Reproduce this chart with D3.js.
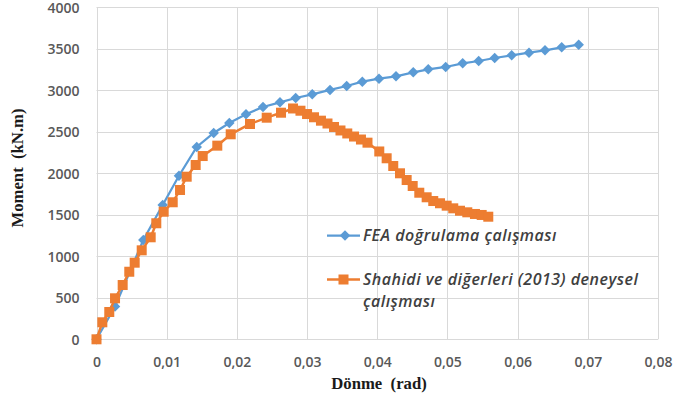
<!DOCTYPE html>
<html>
<head>
<meta charset="utf-8">
<script src="https://cdn.jsdelivr.net/npm/d3@7"></script>
<style>
  html, body { margin: 0; padding: 0; background: #fff; }
  svg { display: block; }
  .title { white-space: pre; }
</style>
</head>
<body>
<svg id="chart" width="673" height="405"></svg>
<script>
// Rotation (rad) and moment (kN.m) for the FEA verification model
const feaRotation = [0, 0.00264, 0.00667, 0.00943, 0.01175, 0.01428, 0.0167, 0.01892, 0.0213, 0.02372,
  0.02614, 0.02838, 0.03074, 0.03327, 0.03565, 0.03787, 0.04025, 0.04267, 0.04513, 0.04727,
  0.04975, 0.05217, 0.05445, 0.05673, 0.05915, 0.06162, 0.0639, 0.06628, 0.0687];
const feaMoment = [0, 395, 1196, 1618, 1971, 2317, 2486, 2606, 2711, 2799,
  2855, 2907, 2952, 3004, 3052, 3104, 3140, 3169, 3217, 3253,
  3281, 3325, 3353, 3389, 3422, 3453, 3482, 3518, 3549];

// Experimental results, Shahidi et al. (2013)
const expRotation = [0, 0.00083, 0.00182, 0.00264, 0.00373, 0.00467, 0.00544, 0.00644, 0.00772, 0.00852,
  0.00957, 0.01086, 0.0119, 0.01285, 0.01413, 0.01513, 0.01721, 0.01912, 0.02187, 0.02425,
  0.02629, 0.028, 0.02906, 0.03, 0.03099, 0.03198, 0.03291, 0.03384, 0.03476, 0.03573,
  0.03669, 0.03768, 0.03861, 0.04029, 0.04134, 0.04228, 0.04324, 0.04419, 0.04505, 0.04599,
  0.04704, 0.04798, 0.04894, 0.04989, 0.05083, 0.05179, 0.05283, 0.05392, 0.05488, 0.05582];
const expMoment = [0, 205, 329, 494, 654, 814, 923, 1072, 1229, 1398,
  1537, 1651, 1799, 1959, 2100, 2208, 2333, 2470, 2594, 2670,
  2730, 2781, 2754, 2714, 2675, 2634, 2600, 2558, 2516, 2480,
  2443, 2407, 2369, 2263, 2181, 2088, 2000, 1919, 1847, 1766,
  1711, 1666, 1639, 1610, 1578, 1549, 1530, 1510, 1498, 1477];

const xTicks = [0, 0.01, 0.02, 0.03, 0.04, 0.05, 0.06, 0.07, 0.08];
const xTickLabels = ["0", "0,01", "0,02", "0,03", "0,04", "0,05", "0,06", "0,07", "0,08"];
const yTicks = [0, 500, 1000, 1500, 2000, 2500, 3000, 3500, 4000];

const seriesNames = ["FEA doğrulama çalışması", "Shahidi ve diğerleri (2013) deneysel", "çalışması"];
const xTitle = "Dönme  (rad)";
const yTitle = "Moment  (kN.m)";

const blue = "#5b9bd5", orange = "#ed7d31";
const svg = d3.select("#chart");
const x = d3.scaleLinear().domain([0, 0.08]).range([96.5, 658]);
const y = d3.scaleLinear().domain([0, 4000]).range([339.3, 7.3]);

// gridlines
const grid = svg.append("g").attr("stroke", "#d9d9d9").attr("stroke-width", 1);
grid.selectAll("line.v").data(xTicks).join("line")
  .attr("x1", d => Math.round(x(d)) + 0.5).attr("x2", d => Math.round(x(d)) + 0.5)
  .attr("y1", y(4000)).attr("y2", y(0));
grid.selectAll("line.h").data(yTicks).join("line")
  .attr("x1", x(0)).attr("x2", x(0.08))
  .attr("y1", d => Math.round(y(d)) + 0.5).attr("y2", d => Math.round(y(d)) + 0.5);

// axes: labels only, no domain lines
const tickFont = "'Open Sans', sans-serif";
const xAxis = svg.append("g").attr("transform", `translate(0,${y(0)})`)
  .call(d3.axisBottom(x).tickValues(xTicks).tickFormat((d, i) => xTickLabels[i]).tickSize(0).tickPadding(18));
const yAxis = svg.append("g").attr("transform", `translate(${x(0)},0)`)
  .call(d3.axisLeft(y).tickValues(yTicks).tickFormat(d3.format("d")).tickSize(0).tickPadding(17));
[xAxis, yAxis].forEach(a => {
  a.select(".domain").remove();
  a.selectAll("text").attr("fill", "#595959").style("font-family", tickFont)
    .style("font-size", "14px").style("font-weight", 600);
});
yAxis.selectAll("text").attr("dy", "0.36em");

// series: FEA first, experimental drawn over it
const fea = feaRotation.map((r, i) => [r, feaMoment[i]]);
const exp = expRotation.map((r, i) => [r, expMoment[i]]);
const line = d3.line().x(d => x(d[0])).y(d => y(d[1]));
const sq = 10, dm = 5.25;
const diamond = (cx, cy) => `M${cx},${cy - dm}L${cx + dm},${cy}L${cx},${cy + dm}L${cx - dm},${cy}Z`;

svg.append("path").datum(fea).attr("d", line).attr("fill", "none")
  .attr("stroke", blue).attr("stroke-width", 2.25);
svg.append("g").selectAll("path").data(fea).join("path")
  .attr("d", d => diamond(x(d[0]), y(d[1]))).attr("fill", blue);

svg.append("path").datum(exp).attr("d", line).attr("fill", "none")
  .attr("stroke", orange).attr("stroke-width", 2.5);
svg.append("g").selectAll("rect").data(exp).join("rect")
  .attr("x", d => x(d[0]) - sq / 2).attr("y", d => y(d[1]) - sq / 2)
  .attr("width", sq).attr("height", sq).attr("fill", orange);

// legend
const leg = svg.append("g");
leg.append("line").attr("x1", 327).attr("x2", 360).attr("y1", 235.5).attr("y2", 235.5)
  .attr("stroke", blue).attr("stroke-width", 2.25);
leg.append("path").attr("d", diamond(345, 235.5)).attr("fill", blue);
leg.append("line").attr("x1", 327).attr("x2", 360).attr("y1", 279.5).attr("y2", 279.5)
  .attr("stroke", orange).attr("stroke-width", 2.5);
leg.append("rect").attr("x", 338.5).attr("y", 274.5).attr("width", 10).attr("height", 10).attr("fill", orange);
const legText = leg.append("g").attr("fill", "#404040").style("font-family", tickFont)
  .style("font-size", "16px").style("font-style", "italic").style("font-weight", 600)
  .style("letter-spacing", "0.5px");
legText.append("text").attr("x", 363).attr("y", 241).text(seriesNames[0]);
legText.append("text").attr("x", 363).attr("y", 285).text(seriesNames[1]);
legText.append("text").attr("x", 363).attr("y", 307).text(seriesNames[2]);

// axis titles
const titleFont = "'Liberation Serif', 'Times New Roman', serif";
svg.append("text").attr("class", "title").attr("x", 379).attr("y", 389).attr("text-anchor", "middle")
  .style("font-family", titleFont).style("font-size", "16.7px").style("font-weight", "bold")
  .attr("fill", "#1a1a1a").text(xTitle);
svg.append("text").attr("class", "title").attr("transform", "translate(23,168) rotate(-90)").attr("text-anchor", "middle")
  .style("font-family", titleFont).style("font-size", "16.7px").style("font-weight", "bold")
  .attr("fill", "#1a1a1a").text(yTitle);
</script>
</body>
</html>
